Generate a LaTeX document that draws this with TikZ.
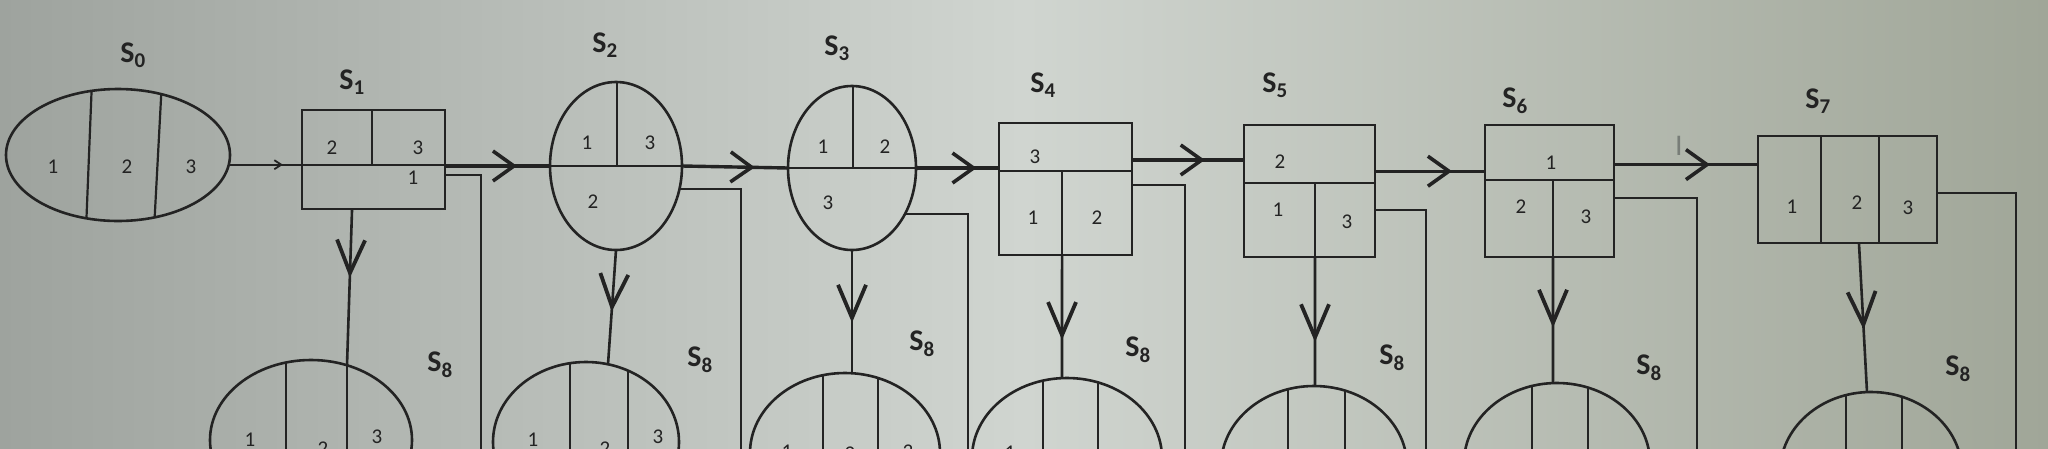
\documentclass[tikz,border=0pt]{standalone}
\usepackage{fontspec}
\setmainfont{Carlito}
\usetikzlibrary{arrows.meta,decorations.markings,calc,shapes.geometric}
\definecolor{ink}{RGB}{35,35,35}
\definecolor{bgL}{RGB}{158,163,158}
\definecolor{bgM}{RGB}{208,213,208}
\definecolor{bgR}{RGB}{160,166,152}
\definecolor{curs}{RGB}{120,125,120}
\begin{document}
\begin{tikzpicture}[x=1pt,y=-1pt,
  ell/.style={ellipse, draw, color=ink, line width=2.6pt, inner sep=0pt, outer sep=0pt},
  box/.style={rectangle, draw, color=ink, line width=2.4pt, inner sep=0pt, outer sep=0pt},
  dv/.style={draw, color=ink, line width=2.2pt},
  chainln/.style={draw, color=ink, line width=3.4pt},
  thinln/.style={draw, color=ink, line width=2.2pt},
  retln/.style={draw, color=ink, line width=2.2pt},
  downln/.style={draw, color=ink, line width=2.6pt},
  num/.style={text=ink, font=\fontsize{21}{21}\selectfont, inner sep=0pt},
  slab/.style={text=ink, font=\fontsize{30}{30}\selectfont\bfseries, inner sep=0pt},
  hmark/.style={postaction={decorate, decoration={markings, mark=at position #1 with {\arrow{Straight Barb[length=21pt,width=30pt,line width=3.6pt]}}}}},
  vmark/.style={postaction={decorate, decoration={markings, mark=at position #1 with {\arrow{Straight Barb[length=33pt,width=28pt,line width=3.8pt]}}}}},
  smark/.style={postaction={decorate, decoration={markings, mark=at position #1 with {\arrow{Straight Barb[length=7pt,width=9pt,line width=1.8pt]}}}}}
]
\useasboundingbox (0,0) rectangle (2048,448);
\clip (0,0) rectangle (2048,448);
\fill[left color=bgL, right color=bgR, middle color=bgM] (0,0) rectangle (2048,448);

% ---------- top row ----------
\node[ell, minimum width=224pt, minimum height=132pt] (s0) at (118,155) {};
\begin{scope}
  \clip (s0.center) ellipse [x radius=112pt, y radius=66pt];
  \draw[dv] (92,80) -- (86,230);
  \draw[dv] (162,80) -- (154,230);
\end{scope}
\node[num] (n0a) at (53,167) {1};
\node[num] (n0b) at (127,167) {2};
\node[num] (n0c) at (191,167) {3};
\node[slab] (t0) at (133,55) {S\textsubscript{0}};

\node[box, minimum width=143pt, minimum height=99pt] (s1) at (373.5,159.5) {};
\draw[dv] (s1.west |- 0,165) -- (s1.east |- 0,165);
\draw[dv] (372,110) -- (372,165);
\node[num] (n1a) at (332,148) {2};
\node[num] (n1b) at (418,148) {3};
\node[num] (n1c) at (413,178) {1};
\node[slab] (t1) at (352,82) {S\textsubscript{1}};

\node[ell, minimum width=132pt, minimum height=168pt] (s2) at (616,166) {};
\begin{scope}
  \clip (s2.center) ellipse [x radius=66pt, y radius=84pt];
  \draw[dv] (540,166) -- (690,166);
  \draw[dv] (617,75) -- (617,166);
\end{scope}
\node[num] (n2a) at (587,143) {1};
\node[num] (n2b) at (650,143) {3};
\node[num] (n2c) at (593,202) {2};
\node[slab] (t2) at (605,45) {S\textsubscript{2}};

\node[ell, minimum width=128pt, minimum height=164pt] (s3) at (852,168) {};
\begin{scope}
  \clip (s3.center) ellipse [x radius=64pt, y radius=82pt];
  \draw[dv] (780,168) -- (925,168);
  \draw[dv] (853,80) -- (853,168);
\end{scope}
\node[num] (n3a) at (823,147) {1};
\node[num] (n3b) at (885,147) {2};
\node[num] (n3c) at (828,203) {3};
\node[slab] (t3) at (837,48) {S\textsubscript{3}};

\node[box, minimum width=133pt, minimum height=132pt] (s4) at (1065.5,189) {};
\draw[dv] (s4.west |- 0,171) -- (s4.east |- 0,171);
\draw[dv] (1062,171) -- (1062,255);
\node[num] (n4a) at (1035,157) {3};
\node[num] (n4b) at (1033,218) {1};
\node[num] (n4c) at (1097,218) {2};
\node[slab] (t4) at (1043,85) {S\textsubscript{4}};

\node[box, minimum width=131pt, minimum height=132pt] (s5) at (1309.5,191) {};
\draw[dv] (s5.west |- 0,183) -- (s5.east |- 0,183);
\draw[dv] (1315,183) -- (1315,257);
\node[num] (n5a) at (1280,162) {2};
\node[num] (n5b) at (1278,210) {1};
\node[num] (n5c) at (1347,222) {3};
\node[slab] (t5) at (1275,85) {S\textsubscript{5}};

\node[box, minimum width=129pt, minimum height=132pt] (s6) at (1549.5,191) {};
\draw[dv] (s6.west |- 0,180) -- (s6.east |- 0,180);
\draw[dv] (1553,180) -- (1553,257);
\node[num] (n6a) at (1551,163) {1};
\node[num] (n6b) at (1521,207) {2};
\node[num] (n6c) at (1586,217) {3};
\node[slab] (t6) at (1515,101) {S\textsubscript{6}};

\node[box, minimum width=179pt, minimum height=107pt] (s7) at (1847.5,189.5) {};
\draw[dv] (1821,136) -- (1821,243);
\draw[dv] (1879,136) -- (1879,243);
\node[num] (n7a) at (1792,207) {1};
\node[num] (n7b) at (1857,203) {2};
\node[num] (n7c) at (1908,208) {3};
\node[slab] (t7) at (1818,101) {S\textsubscript{7}};

\node[text=curs, font=\fontsize{30}{30}\selectfont, inner sep=0pt] (cur) at (1679,146) {I};

% ---------- chain arrows ----------
\coordinate (o4) at ($(s4.north east)!0.28!(s4.south east)$);
\coordinate (o5) at ($(s5.north east)!0.35!(s5.south east)$);
\coordinate (o6) at ($(s6.north east)!0.30!(s6.south east)$);
\draw[thinln, smark=0.74] (s0.-5) -- (s0.-5 -| s1.west);
\draw[chainln, hmark=0.686] (s2.west -| s1.east) -- (s2.west);
\draw[chainln, hmark=0.686] (s2.east) -- (s3.west);
\draw[chainln, hmark=0.73] (s3.east) -- (s3.east -| s4.west);
\draw[chainln, hmark=0.65] (o4) -- (o4 -| s5.west);
\draw[chainln, hmark=0.70] (o5) -- (o5 -| s6.west);
\draw[chainln, hmark=0.667] (o6) -- (o6 -| s7.west);

% ---------- return lines ----------
\coordinate (r1) at (481,470);
\coordinate (r2) at (741,470);
\coordinate (r3) at (968,470);
\coordinate (r4) at (1185,470);
\coordinate (r5) at (1426,470);
\coordinate (r6) at (1697,470);
\coordinate (r7) at (2016,470);
\draw[retln] ($(s1.north east)!0.66!(s1.south east)$) -| (r1);
\draw[retln] (s2.-20.8) -| (r2);
\draw[retln] (s3.-41.9) -| (r3);
\draw[retln] ($(s4.north east)!0.47!(s4.south east)$) -| (r4);
\draw[retln] ($(s5.north east)!0.644!(s5.south east)$) -| (r5);
\draw[retln] ($(s6.north east)!0.553!(s6.south east)$) -| (r6);
\draw[retln] ($(s7.north east)!0.533!(s7.south east)$) -| (r7);

% ---------- bottom S8 ellipses ----------
\node[ell, minimum width=202pt, minimum height=160pt] (e1) at (311,440) {};
\node[ell, minimum width=186pt, minimum height=160pt] (e2) at (586,442) {};
\node[ell, minimum width=190pt, minimum height=160pt] (e3) at (845,453) {};
\node[ell, minimum width=190pt, minimum height=160pt] (e4) at (1067,458) {};
\node[ell, minimum width=186pt, minimum height=160pt] (e5) at (1314,466) {};
\node[ell, minimum width=186pt, minimum height=160pt] (e6) at (1557,463) {};
\node[ell, minimum width=182pt, minimum height=160pt] (e7) at (1871,472) {};
\begin{scope}
  \clip (e1.center) ellipse [x radius=101pt, y radius=80pt];
  \draw[dv] (286,350) -- (286,530);
  \draw[dv] (347,350) -- (347,530);
\end{scope}
\begin{scope}
  \clip (e2.center) ellipse [x radius=93pt, y radius=80pt];
  \draw[dv] (570,350) -- (570,530);
  \draw[dv] (628,350) -- (628,530);
\end{scope}
\begin{scope}
  \clip (e3.center) ellipse [x radius=95pt, y radius=80pt];
  \draw[dv] (823,360) -- (823,540);
  \draw[dv] (878,360) -- (878,540);
\end{scope}
\begin{scope}
  \clip (e4.center) ellipse [x radius=95pt, y radius=80pt];
  \draw[dv] (1043,360) -- (1043,540);
  \draw[dv] (1098,360) -- (1098,540);
\end{scope}
\begin{scope}
  \clip (e5.center) ellipse [x radius=93pt, y radius=80pt];
  \draw[dv] (1288,370) -- (1288,550);
  \draw[dv] (1345,370) -- (1345,550);
\end{scope}
\begin{scope}
  \clip (e6.center) ellipse [x radius=93pt, y radius=80pt];
  \draw[dv] (1532,370) -- (1532,550);
  \draw[dv] (1588,370) -- (1588,550);
\end{scope}
\begin{scope}
  \clip (e7.center) ellipse [x radius=91pt, y radius=80pt];
  \draw[dv] (1846,380) -- (1846,560);
  \draw[dv] (1902,380) -- (1902,560);
\end{scope}
\node[num] (m1a) at (250,440) {1};
\node[num] (m1b) at (323,449) {2};
\node[num] (m1c) at (377,437) {3};
\node[num] (m2a) at (533,440) {1};
\node[num] (m2b) at (605,449) {2};
\node[num] (m2c) at (658,437) {3};
\node[num] (m3a) at (787,452) {1};
\node[num] (m3b) at (850,454) {2};
\node[num] (m3c) at (908,452) {3};
\node[num] (m4a) at (1010,453) {1};
\node[slab] (u1) at (440,365) {S\textsubscript{8}};
\node[slab] (u2) at (700,360) {S\textsubscript{8}};
\node[slab] (u3) at (922,344) {S\textsubscript{8}};
\node[slab] (u4) at (1138,350) {S\textsubscript{8}};
\node[slab] (u5) at (1392,358) {S\textsubscript{8}};
\node[slab] (u6) at (1649,368) {S\textsubscript{8}};
\node[slab] (u7) at (1958,369) {S\textsubscript{8}};

% ---------- down arrows ----------
\coordinate (d1) at ($(s1.south west)!0.35!(s1.south east)$);
\coordinate (d4) at ($(s4.south west)!0.474!(s4.south east)$);
\coordinate (d5) at ($(s5.south west)!0.542!(s5.south east)$);
\coordinate (d6) at ($(s6.south west)!0.527!(s6.south east)$);
\coordinate (d7) at ($(s7.south west)!0.564!(s7.south east)$);
\coordinate (e1t) at ($(e1.center)+(36,-74.7)$);
\coordinate (e2t) at ($(e2.center)+(22,-77.7)$);
\coordinate (e3t) at ($(e3.center)+(7,-79.8)$);
\coordinate (e4t) at ($(e4.center)+(-5,-79.9)$);
\coordinate (e5t) at ($(e5.center)+(1,-80)$);
\coordinate (e6t) at ($(e6.center)+(-4,-79.9)$);
\coordinate (e7t) at ($(e7.center)+(-4,-79.9)$);
\draw[downln, vmark=0.44] (d1) -- (e1t);
\draw[downln, vmark=0.54] (s2.south) -- (e2t);
\draw[downln, vmark=0.59] (s3.south) -- (e3t);
\draw[downln, vmark=0.69] (d4) -- (e4t);
\draw[downln, vmark=0.66] (d5) -- (e5t);
\draw[downln, vmark=0.56] (d6) -- (e6t);
\draw[downln, vmark=0.58] (d7) -- (e7t);
\end{tikzpicture}
\end{document}
